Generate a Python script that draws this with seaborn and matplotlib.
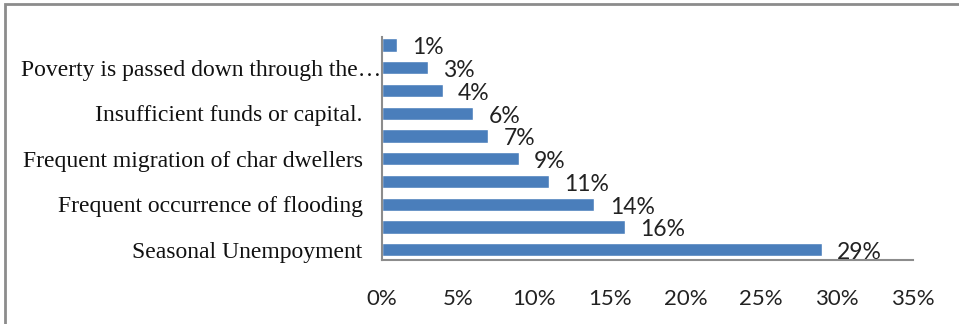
import matplotlib
matplotlib.use("Agg")
import matplotlib.pyplot as plt
import matplotlib.transforms as mtransforms
import seaborn as sns
import pandas as pd
from matplotlib.patches import Rectangle

# Data (top to bottom); every other category label is hidden in the reference
categories = [
    "Cause 10",
    "Poverty is passed down through the…",
    "Cause 8",
    "Insufficient funds or capital.",
    "Cause 6",
    "Frequent migration of char dwellers",
    "Cause 4",
    "Frequent occurrence of flooding",
    "Cause 2",
    "Seasonal Unempoyment",
]
shown_labels = [
    "",
    "Poverty is passed down through the…",
    "",
    "Insufficient funds or capital.",
    "",
    "Frequent migration of char dwellers",
    "",
    "Frequent occurrence of flooding",
    "",
    "Seasonal Unempoyment",
]
values = [1, 3, 4, 6, 7, 9, 11, 14, 16, 29]
x_ticks = [0, 5, 10, 15, 20, 25, 30, 35]

df = pd.DataFrame({"category": categories, "value": values})

sns.set_theme(style="white")
plt.rcParams["font.family"] = ["Lato", "DejaVu Sans"]

fig = plt.figure(figsize=(9.59, 3.24), dpi=100)
ax = fig.add_axes([382 / 959, 1 - 260 / 324, (913 - 382) / 959, (260 - 37) / 324])

bar_color = "#4A7EBB"
sns.barplot(data=df, x="value", y="category", order=categories, color=bar_color,
            saturation=1, width=0.58, ax=ax)

ax.set_xlim(0, 35)
ax.set_ylim(9.45, -0.35)
ax.set_xticks(x_ticks)
ax.set_xticklabels([f"{t}%" for t in x_ticks], fontsize=16, color="#222222")
ax.set_yticks(range(len(categories)))
ax.set_yticklabels(shown_labels, fontsize=17, family="Liberation Serif", color="#111111")
ax.tick_params(axis="y", length=0, pad=14)
ax.tick_params(axis="x", length=0, pad=21)
ax.set_xlabel("")
ax.set_ylabel("")

# the truncated label runs right up to the axis in the reference
for lab in ax.get_yticklabels():
    if lab.get_text().endswith("…"):
        lab.set_transform(lab.get_transform() +
                          mtransforms.ScaledTranslation(0.19, 0, fig.dpi_scale_trans))

for s in ["top", "right"]:
    ax.spines[s].set_visible(False)
for s in ["left", "bottom"]:
    ax.spines[s].set_color("#8C8C8C")
    ax.spines[s].set_linewidth(1.5)

for i, v in enumerate(values):
    ax.annotate(f"{v}%", xy=(v, i), xytext=(11, -2), textcoords="offset points",
                ha="left", va="center", fontsize=16.5, color="#222222")

# outer frame (top and left edges visible)
fig.patches.append(Rectangle((5 / 959, -0.1), 1.2, 1 - 4 / 324 + 0.1, transform=fig.transFigure,
                             fill=False, edgecolor="#8C8C8C", linewidth=2))

fig.savefig("out.png", dpi=100)
